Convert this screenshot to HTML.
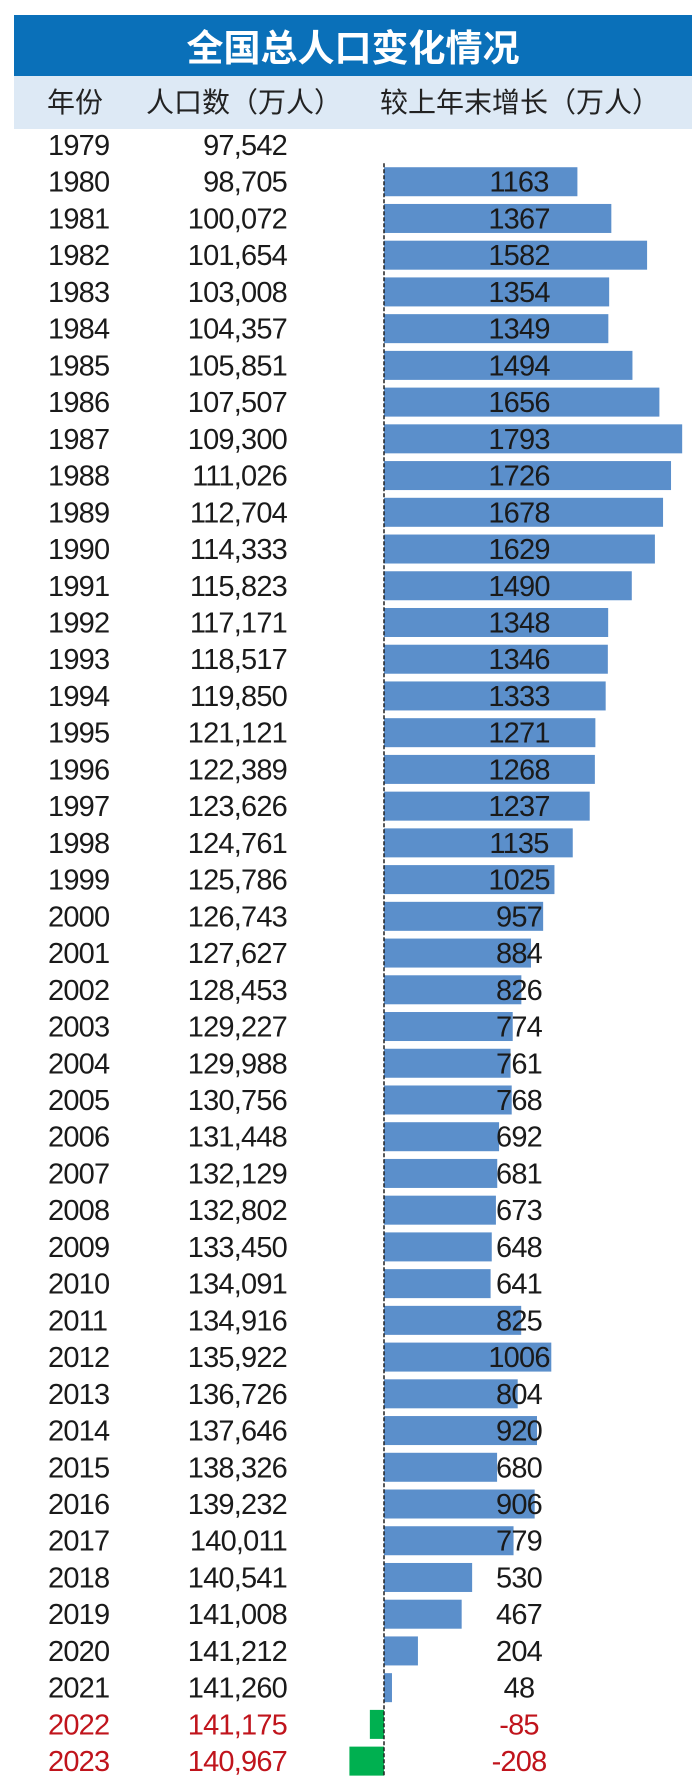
<!DOCTYPE html>
<html><head><meta charset="utf-8"><style>
body{margin:0;background:#fff;}
#wrap{position:relative;width:700px;height:1787px;overflow:hidden;background:#fff;font-family:"Liberation Sans Narrow","Liberation Sans","Noto Sans CJK SC",sans-serif;}
.t{position:absolute;white-space:nowrap;line-height:1;}
</style></head><body>
<div id="wrap">
<div style="position:absolute;left:14px;top:15px;width:678px;height:61px;background:#0a70b9;"></div>
<div class="t" style="left:14px;width:678px;top:27px;text-align:center;color:#fff;font-size:37px;font-weight:bold;font-family:'Noto Sans CJK SC',sans-serif;">全国总人口变化情况</div>
<div style="position:absolute;left:14px;top:76px;width:678px;height:53px;background:#dde9f5;"></div>
<div class="t" style="left:47px;top:87px;font-size:28px;color:#222;font-family:'Noto Sans CJK SC',sans-serif;">年份</div>
<div class="t" style="left:146px;top:87px;font-size:28px;color:#222;font-family:'Noto Sans CJK SC',sans-serif;">人口数（万人）</div>
<div class="t" style="left:380px;top:87px;font-size:28px;color:#222;font-family:'Noto Sans CJK SC',sans-serif;">较上年末增长（万人）</div>
<svg id="chart" width="700" height="1787" style="position:absolute;left:0;top:0"></svg>
</div>
<script>
const years=[1979,1980,1981,1982,1983,1984,1985,1986,1987,1988,1989,1990,1991,1992,1993,1994,1995,1996,1997,1998,1999,2000,2001,2002,2003,2004,2005,2006,2007,2008,2009,2010,2011,2012,2013,2014,2015,2016,2017,2018,2019,2020,2021,2022,2023];
const populations=["97,542","98,705","100,072","101,654","103,008","104,357","105,851","107,507","109,300","111,026","112,704","114,333","115,823","117,171","118,517","119,850","121,121","122,389","123,626","124,761","125,786","126,743","127,627","128,453","129,227","129,988","130,756","131,448","132,129","132,802","133,450","134,091","134,916","135,922","136,726","137,646","138,326","139,232","140,011","140,541","141,008","141,212","141,260","141,175","140,967"];
const growth=[null,1163,1367,1582,1354,1349,1494,1656,1793,1726,1678,1629,1490,1348,1346,1333,1271,1268,1237,1135,1025,957,884,826,774,761,768,692,681,673,648,641,825,1006,804,920,680,906,779,530,467,204,48,-85,-208];

const NS='http://www.w3.org/2000/svg';
const svg=document.getElementById('chart');
const x0=384, k=0.1663;
const xs=v=>x0+v*k;
const yc=i=>145+i*36.73;
const bh=29;
const FONT='"Liberation Sans Narrow","Liberation Sans",sans-serif';
function mk(tag,attrs){const e=document.createElementNS(NS,tag);for(const a in attrs)e.setAttribute(a,attrs[a]);svg.appendChild(e);return e;}
years.forEach((yr,i)=>{
  const red=yr>=2022;
  const col=red?'#c0141c':'#1a1a1a';
  const ty=mk('text',{x:48,y:yc(i)+10,'font-size':29,'letter-spacing':-0.8,fill:col,'font-family':FONT});
  ty.textContent=yr;
  
  
  const tp=mk('text',{x:287,y:yc(i)+10,'font-size':29,'letter-spacing':-0.8,fill:col,'font-family':FONT,'text-anchor':'end'});
  tp.textContent=populations[i];
  
  
  const g=growth[i];
  if(g!==null){
    const x1=Math.min(xs(0),xs(g)), w=Math.abs(xs(g)-xs(0));
    const r=mk('rect',{x:x1,y:yc(i)-bh/2,width:w,height:bh,fill:g<0?'#00b050':'#5b8fcb'});
    
    
    const tv=mk('text',{x:519,y:yc(i)+10,'font-size':29,'letter-spacing':-0.8,fill:red?'#c0141c':'#1a1a1a','font-family':FONT,'text-anchor':'middle'});
    tv.textContent=g<0?'-'+Math.abs(g):g;
    
    
  }
});
const ax=mk('line',{x1:x0,x2:x0,y1:yc(1)-bh/2-4,y2:yc(years.length-1)+bh/2,stroke:'#222','stroke-width':1.5,'stroke-dasharray':'4,2'});


</script>
</body></html>
